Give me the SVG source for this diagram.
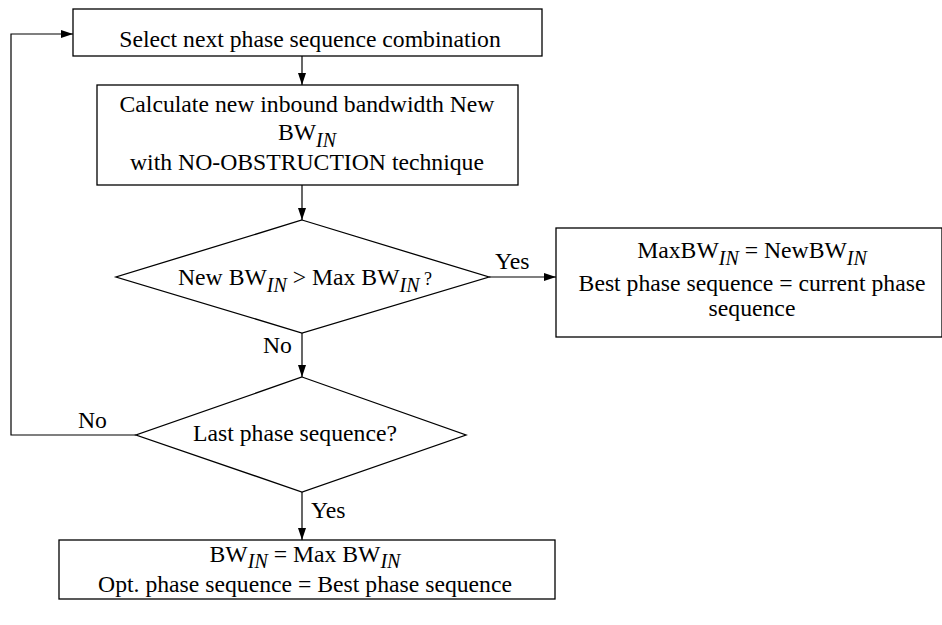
<svg xmlns="http://www.w3.org/2000/svg" width="942" height="625" viewBox="0 0 942 625">
<defs>
<marker id="ah" viewBox="0 0 12 10" refX="12" refY="5" markerWidth="12" markerHeight="10" markerUnits="userSpaceOnUse" orient="auto">
<path d="M0,1 L12,5 L0,9 z" fill="#000"/>
</marker>
<style>
.box{fill:#fff;stroke:#000;stroke-width:1.3}
.ln{fill:none;stroke:#000;stroke-width:1.2}
text{font-family:"Liberation Serif","Times New Roman",serif;font-size:23.7px;fill:#000}
.c{text-anchor:middle}
.s{font-style:italic;font-size:20px}
</style>
</defs>
<rect width="942" height="625" fill="#fff"/>
<g id="connectors">
<line class="ln" x1="302" y1="56" x2="302" y2="85" marker-end="url(#ah)"/>
<line class="ln" x1="302" y1="185" x2="302" y2="220" marker-end="url(#ah)"/>
<line class="ln" x1="489" y1="277" x2="556" y2="277" marker-end="url(#ah)"/>
<line class="ln" x1="302" y1="333" x2="302" y2="377" marker-end="url(#ah)"/>
<line class="ln" x1="302" y1="492" x2="302" y2="540" marker-end="url(#ah)"/>
<polyline class="ln" points="136,435 11,435 11,34 73,34" marker-end="url(#ah)"/>
<text x="495" y="269">Yes</text>
<text x="263" y="353">No</text>
<text x="78" y="428">No</text>
<text x="311" y="518">Yes</text>
</g>
<g id="select">
<rect class="box" x="73" y="9" width="469" height="47"/>
<text class="c" x="310" y="47">Select next phase sequence combination</text>
</g>
<g id="calculate">
<rect class="box" x="97" y="85" width="421" height="100"/>
<text class="c" x="307" y="112">Calculate new inbound bandwidth New</text>
<text class="c" x="307" y="140">BW<tspan class="s" dy="7">IN</tspan></text>
<text class="c" x="307" y="170">with NO-OBSTRUCTION technique</text>
</g>
<g id="decision1">
<polygon class="box" points="302,220 489,277 302,333 116,277"/>
<text class="c" x="305" y="285">New BW<tspan class="s" dy="7">IN</tspan><tspan dy="-7"> &gt; Max BW</tspan><tspan class="s" dy="7">IN</tspan><tspan dy="-7" font-size="18px"> ?</tspan></text>
</g>
<g id="update">
<rect class="box" x="556" y="228" width="386" height="109"/>
<text class="c" x="752" y="258">MaxBW<tspan class="s" dy="7">IN</tspan><tspan dy="-7"> = NewBW</tspan><tspan class="s" dy="7">IN</tspan></text>
<text class="c" x="752" y="291">Best phase sequence = current phase</text>
<text class="c" x="752" y="316">sequence</text>
</g>
<g id="decision2">
<polygon class="box" points="302,377 466,435 302,492 136,435"/>
<text class="c" x="295" y="441">Last phase sequence?</text>
</g>
<g id="result">
<rect class="box" x="59" y="540" width="496" height="59"/>
<text class="c" x="305" y="562">BW<tspan class="s" dy="6">IN</tspan><tspan dy="-6"> = Max BW</tspan><tspan class="s" dy="6">IN</tspan></text>
<text class="c" x="305" y="592">Opt. phase sequence = Best phase sequence</text>
</g>
</svg>
